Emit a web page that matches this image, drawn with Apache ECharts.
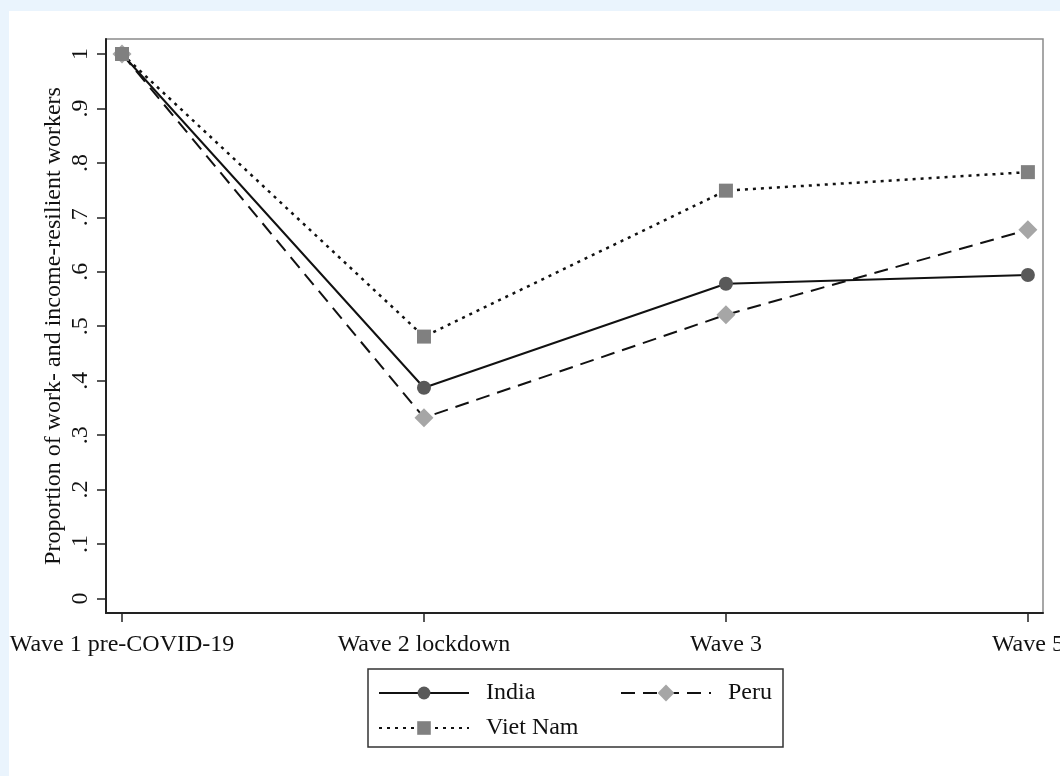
<!DOCTYPE html>
<html>
<head>
<meta charset="utf-8">
<script src="https://cdn.jsdelivr.net/npm/echarts@6/dist/echarts.min.js"></script>
<style>
html,body{margin:0;padding:0;background:#eaf4fd;}
#c{width:1060px;height:776px;}
</style>
</head>
<body>
<div id="c"></div>
<script>
const categories = ['Wave 1 pre-COVID-19', 'Wave 2 lockdown', 'Wave 3', 'Wave 5'];
const india = [1, 0.387, 0.578, 0.594];
const peru = [1, 0.332, 0.521, 0.677];
const vietnam = [1, 0.481, 0.749, 0.783];
const yTicks = [0, 0.1, 0.2, 0.3, 0.4, 0.5, 0.6, 0.7, 0.8, 0.9, 1];
const yTickLabels = ['0', '.1', '.2', '.3', '.4', '.5', '.6', '.7', '.8', '.9', '1'];
const xTicks = [0, 1, 2, 3];

const FONT = 'Liberation Serif';
const FS = 24;
const pts = arr => arr.map((v, i) => [i, v]);

const chart = echarts.init(document.getElementById('c'));

const legendBase = {
  orient: 'horizontal',
  padding: 0,
  itemWidth: 90,
  itemHeight: 18,
  textStyle: { fontFamily: FONT, fontSize: FS, color: '#111', lineHeight: 26, padding: [0, 0, 0, 12] },
  selectedMode: false
};

chart.setOption({
  backgroundColor: '#eaf4fd',
  animation: false,
  graphic: [
    { type: 'rect', z: -10, silent: true, shape: { x: 9, y: 11, width: 1060, height: 776 }, style: { fill: '#ffffff' } },
    { type: 'rect', z: 10, silent: true, shape: { x: 368, y: 669, width: 415, height: 78 }, style: { fill: 'none', stroke: '#333', lineWidth: 1.5 } }
  ],
  grid: {
    left: 106, top: 39, right: 17, bottom: 163,
    outerBoundsMode: 'none',
    containLabel: false,
    show: true, borderColor: '#8a8a8a', borderWidth: 1.5, backgroundColor: '#ffffff'
  },
  xAxis: {
    type: 'value',
    min: -0.053, max: 3.05,
    splitLine: { show: false },
    axisLine: { show: true, onZero: false, lineStyle: { color: '#222', width: 2 } },
    axisTick: { show: true, length: 9, customValues: xTicks, lineStyle: { color: '#222', width: 1.5 } },
    axisLabel: {
      customValues: xTicks,
      hideOverlap: false,
      formatter: v => categories[Math.round(v)] || '',
      fontFamily: FONT, fontSize: FS, color: '#111', lineHeight: 24, margin: 20
    }
  },
  yAxis: {
    type: 'value',
    min: -0.0266, max: 1.0275,
    splitLine: { show: false },
    axisLine: { show: true, onZero: false, lineStyle: { color: '#222', width: 2 } },
    axisTick: { show: true, length: 9, customValues: yTicks, lineStyle: { color: '#222', width: 1.5 } },
    axisLabel: {
      customValues: yTicks,
      rotate: 90,
      formatter: v => { const i = yTicks.findIndex(t => Math.abs(t - v) < 1e-6); return i >= 0 ? yTickLabels[i] : ''; },
      fontFamily: FONT, fontSize: FS, color: '#111', margin: 13
    },
    name: 'Proportion of work- and income-resilient workers',
    nameLocation: 'middle',
    nameRotate: 90,
    nameGap: 40,
    nameMoveOverlap: false,
    nameTextStyle: { fontFamily: FONT, fontSize: FS, color: '#111' }
  },
  legend: [
    Object.assign({}, legendBase, { left: 378, top: 680, data: ['India'], itemHeight: 16,
      lineStyle: { color: '#111', width: 2, type: 'solid' }, itemStyle: { color: '#595959' } }),
    Object.assign({}, legendBase, { left: 620, top: 680, data: ['Peru'], itemHeight: 21,
      lineStyle: { color: '#111', width: 2, type: [14, 8] }, itemStyle: { color: '#a6a6a6' } }),
    Object.assign({}, legendBase, { left: 378, top: 715, data: ['Viet Nam'], itemHeight: 17,
      lineStyle: { color: '#111', width: 2, type: [3, 5] }, itemStyle: { color: '#808080' } })
  ],
  series: [
    {
      name: 'India', type: 'line', data: pts(india),
      symbol: 'circle', symbolSize: 14, showAllSymbol: true,
      lineStyle: { color: '#111', width: 2, type: 'solid' },
      itemStyle: { color: '#595959', borderWidth: 0 }
    },
    {
      name: 'Peru', type: 'line', data: pts(peru),
      symbol: 'diamond', symbolSize: 19,
      lineStyle: { color: '#111', width: 2, type: [14, 8] },
      itemStyle: { color: '#a6a6a6', borderWidth: 0 }
    },
    {
      name: 'Viet Nam', type: 'line', data: pts(vietnam),
      symbol: 'rect', symbolSize: 14,
      lineStyle: { color: '#111', width: 2.5, type: [3, 5] },
      itemStyle: { color: '#808080', borderWidth: 0 }
    }
  ]
});
</script>
</body>
</html>
